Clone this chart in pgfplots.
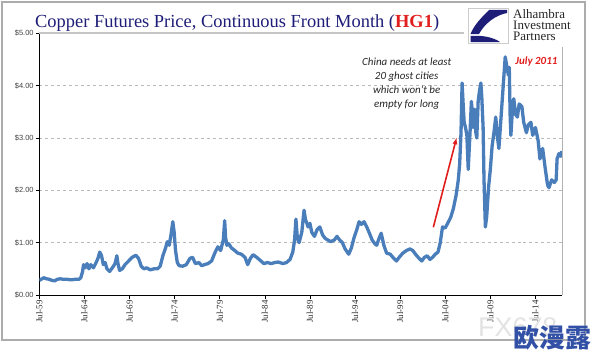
\documentclass[border=0pt]{standalone}
\usepackage{pgfplots}
\pgfplotsset{compat=1.18}
\usetikzlibrary{arrows.meta}
\usepackage{fontspec}
\setmainfont{Liberation Serif}
\newfontfamily\lsans{Liberation Sans}
\newfontfamily\carlito{Carlito}
\newfontfamily\cjk{Noto Sans CJK SC}
\definecolor{cu}{RGB}{74,126,187}
\definecolor{navy}{RGB}{30,30,120}
\definecolor{hgred}{RGB}{225,30,30}
\definecolor{wm}{RGB}{50,80,165}
\begin{document}
\begin{tikzpicture}[x=1bp,y=1bp]
\useasboundingbox (0,0) rectangle (594,359);
\draw[gray!65, line width=1.2bp] (2,357) rectangle (585,19);
\begin{axis}[
  at={(39.3bp,64bp)}, anchor=south west,
  scale only axis, width=523bp, height=261.7bp,
  xmin=1959.5, xmax=2017.48, ymin=0, ymax=5,
  axis x line*=bottom, axis y line*=left,
  axis line style={-, black, line width=0.6bp},
  tick align=outside, major tick length=3.5bp,
  tick style={black, line width=0.6bp},
  xtick={1959.5,1964.5,1969.5,1974.5,1979.5,1984.5,1989.5,1994.5,1999.5,2004.5,2009.5,2014.5},
  xticklabels={Jul-59,Jul-64,Jul-69,Jul-74,Jul-79,Jul-84,Jul-89,Jul-94,Jul-99,Jul-04,Jul-09,Jul-14},
  xticklabel style={rotate=90, anchor=east, font=\fontsize{9}{9}\selectfont, text=black!85, inner sep=1.5bp},
  ytick={0,1,2,3,4},
  yticklabels={\$0.00,\$1.00,\$2.00,\$3.00,\$4.00},
  extra y ticks={5}, extra y tick labels={\$5.00},
  extra y tick style={grid=none},
  yticklabel style={font=\lsans\fontsize{7.5}{8}\selectfont, text=black!75, inner sep=2bp},
  ymajorgrids, grid style={dashed, gray!55, line width=0.5bp},
]
\addplot[cu, line width=3.3bp, line join=round] coordinates {
(1959.5,0.28) (1959.8,0.31) (1960.0,0.33) (1960.3,0.31) (1960.6,0.30) (1960.9,0.28)
(1961.2,0.27) (1961.5,0.30) (1961.8,0.31) (1962.2,0.30) (1962.6,0.30) (1963.0,0.29)
(1963.5,0.30) (1963.9,0.30) (1964.1,0.33) (1964.3,0.45) (1964.4,0.58) (1964.6,0.52)
(1964.8,0.60) (1965.0,0.50) (1965.2,0.58) (1965.5,0.52) (1965.8,0.62) (1966.0,0.70)
(1966.2,0.82) (1966.4,0.75) (1966.6,0.58) (1966.8,0.62) (1967.0,0.50) (1967.3,0.45)
(1967.6,0.52) (1967.9,0.60) (1968.1,0.75) (1968.2,0.62) (1968.4,0.47) (1968.7,0.50)
(1969.0,0.58) (1969.4,0.65) (1969.8,0.72) (1970.2,0.76) (1970.5,0.70) (1970.8,0.55)
(1971.1,0.50) (1971.4,0.52) (1971.8,0.48) (1972.2,0.50) (1972.6,0.50) (1972.9,0.55)
(1973.2,0.75) (1973.5,0.90) (1973.7,1.02) (1973.9,0.95) (1974.1,1.15) (1974.3,1.40)
(1974.45,1.20) (1974.6,0.85) (1974.8,0.62) (1975.0,0.56) (1975.4,0.55) (1975.8,0.58)
(1976.2,0.70) (1976.5,0.72) (1976.8,0.60) (1977.2,0.62) (1977.5,0.56) (1977.8,0.58)
(1978.2,0.60) (1978.6,0.65) (1979.0,0.82) (1979.3,0.92) (1979.6,0.85) (1979.9,1.05)
(1980.05,1.42) (1980.15,1.10) (1980.3,0.95) (1980.5,0.98) (1980.8,0.90) (1981.1,0.86)
(1981.5,0.80) (1981.9,0.78) (1982.3,0.72) (1982.6,0.58) (1982.9,0.70) (1983.2,0.77)
(1983.6,0.72) (1984.0,0.66) (1984.4,0.60) (1984.8,0.62) (1985.2,0.60) (1985.6,0.62)
(1986.0,0.63) (1986.5,0.60) (1986.9,0.62) (1987.3,0.68) (1987.6,0.82) (1987.8,1.05)
(1987.95,1.45) (1988.1,1.10) (1988.3,1.00) (1988.6,1.20) (1988.85,1.62) (1989.0,1.45)
(1989.3,1.30) (1989.5,1.37) (1989.7,1.20) (1990.0,1.12) (1990.3,1.25) (1990.6,1.30)
(1990.9,1.15) (1991.2,1.08) (1991.5,1.05) (1991.8,1.02) (1992.2,1.05) (1992.5,1.12)
(1992.8,1.05) (1993.1,1.00) (1993.4,0.88) (1993.8,0.78) (1994.1,0.90) (1994.4,1.10)
(1994.7,1.25) (1994.95,1.40) (1995.2,1.35) (1995.5,1.40) (1995.8,1.30) (1996.1,1.18)
(1996.4,1.05) (1996.7,0.98) (1996.9,0.95) (1997.2,1.10) (1997.4,1.18) (1997.7,0.95)
(1998.0,0.80) (1998.4,0.78) (1998.8,0.70) (1999.1,0.65) (1999.4,0.72) (1999.8,0.80)
(2000.2,0.85) (2000.6,0.88) (2000.9,0.85) (2001.2,0.78) (2001.6,0.70) (2001.9,0.65)
(2002.2,0.72) (2002.5,0.75) (2002.8,0.68) (2003.1,0.72) (2003.4,0.78) (2003.7,0.82)
(2003.95,1.00) (2004.2,1.30) (2004.5,1.28) (2004.8,1.38) (2005.1,1.48) (2005.4,1.65)
(2005.7,1.90) (2005.95,2.20) (2006.1,2.50) (2006.25,3.10) (2006.37,4.05) (2006.5,3.60)
(2006.6,3.30) (2006.75,3.20) (2006.9,3.05) (2007.05,2.40) (2007.25,3.10) (2007.4,3.70)
(2007.5,3.50) (2007.6,3.20) (2007.75,3.55) (2007.9,3.10) (2008.0,3.00) (2008.15,3.70)
(2008.3,3.90) (2008.45,4.05) (2008.55,3.80) (2008.7,3.20) (2008.8,2.20) (2008.95,1.30)
(2009.1,1.50) (2009.3,2.05) (2009.5,2.40) (2009.7,2.85) (2009.9,3.10) (2010.1,3.40)
(2010.3,3.00) (2010.45,2.80) (2010.65,3.30) (2010.85,3.80) (2011.05,4.30) (2011.15,4.55)
(2011.3,4.40) (2011.5,4.20) (2011.6,4.35) (2011.7,3.40) (2011.78,3.05) (2011.9,3.40)
(2012.1,3.75) (2012.3,3.45) (2012.5,3.40) (2012.7,3.65) (2013.0,3.60) (2013.2,3.30)
(2013.5,3.10) (2013.7,3.25) (2014.0,3.30) (2014.2,3.05) (2014.5,3.20) (2014.8,2.95)
(2015.0,2.60) (2015.3,2.80) (2015.6,2.40) (2015.85,2.10) (2016.0,2.05) (2016.3,2.20)
(2016.6,2.15) (2016.8,2.20) (2016.9,2.60) (2017.1,2.70) (2017.3,2.65) (2017.4,2.75)
};
\end{axis}
% top line and right border
\draw[gray!45, line width=1.8bp] (39.3,325.7) -- (464,325.7);
\draw[gray!60, line width=0.8bp] (562.3,312) -- (562.3,64);
% title
\node[anchor=base west, inner sep=0, text=navy, font=\fontsize{18.5}{20}\selectfont] at (35,332)
  {Copper Futures Price, Continuous Front Month (\textcolor{hgred}{\textbf{HG1}})};
% logo
\draw[gray!40, fill=white, line width=0.6bp] (468,351) rectangle (508,316);
\fill[navy] (507,349) -- (489,349) .. controls (482,342) and (474,334) .. (470.5,325) -- (479,325) .. controls (485,336) and (496,344) .. (507,346) -- cycle;
\fill[navy] (470.5,323) .. controls (481,324) and (493,322) .. (500,317) -- (470.5,317) -- cycle;
\begin{scope}[font=\fontsize{13}{13}\selectfont, text=black!85]
\node[anchor=base west, inner sep=0] at (513,341) {Alhambra};
\node[anchor=base west, inner sep=0] at (513,329.5) {Investment};
\node[anchor=base west, inner sep=0] at (513,318.5) {Partners};
\end{scope}
% annotation
\begin{scope}[font=\carlito\itshape\fontsize{11}{11}\selectfont, text=black!85]
\node[anchor=base, inner sep=0] at (406.7,294) {China needs at least};
\node[anchor=base, inner sep=0] at (406.7,280) {20 ghost cities};
\node[anchor=base, inner sep=0] at (406.7,266) {which won't be};
\node[anchor=base, inner sep=0] at (406.7,252) {empty for long};
\end{scope}
\node[anchor=base, inner sep=0, text=hgred, font=\carlito\bfseries\itshape\fontsize{11}{11}\selectfont] at (536.4,294.5) {July 2011};
\draw[hgred, line width=1.6bp, -{Latex[length=7bp,width=5bp]}] (433.3,131.7) -- (456.7,221.7);
% watermark
\node[anchor=base west, inner sep=0, text=gray!22, font=\lsans\fontsize{27}{27}\selectfont] at (478,22.3) {FX678};
\node[inner sep=0, text=wm, font=\cjk\bfseries\fontsize{26}{26}\selectfont] at (552.5,21.5) {欧漫露};
\end{tikzpicture}
\end{document}
